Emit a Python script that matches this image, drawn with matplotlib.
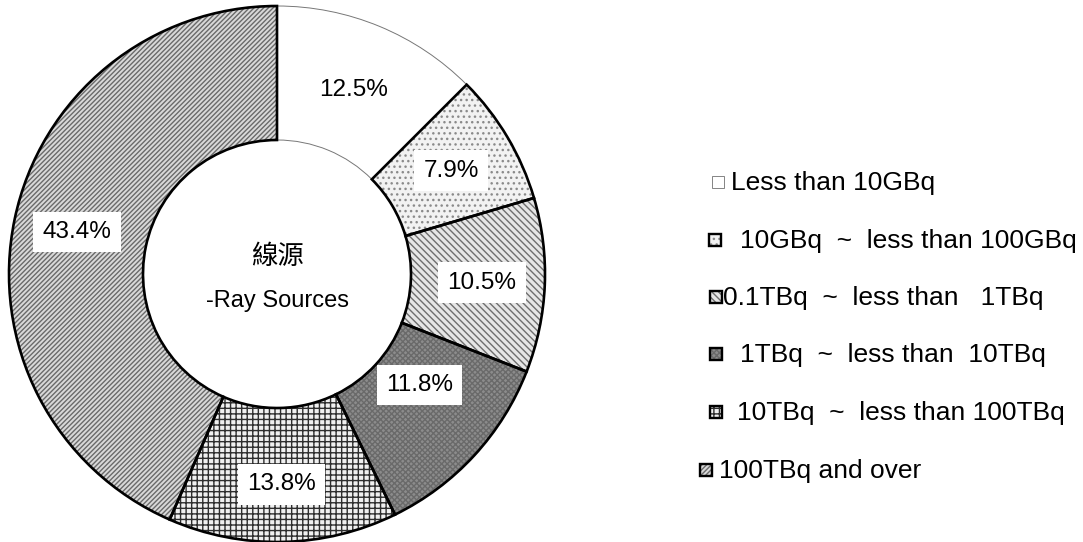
import matplotlib
matplotlib.use("Agg")
import matplotlib.pyplot as plt
from matplotlib.patches import Rectangle
import numpy as np

plt.rcParams['font.family'] = ['Liberation Sans', 'Noto Sans CJK TC', 'DejaVu Sans']
plt.rcParams['hatch.linewidth'] = 1.0

# ---- data ----
categories = [
    "Less than 10GBq",
    "10GBq  ~  less than 100GBq",
    "0.1TBq  ~  less than   1TBq",
    "1TBq  ~  less than  10TBq",
    "10TBq  ~  less than 100TBq",
    "100TBq and over",
]
values = [12.5, 7.9, 10.5, 11.8, 13.8, 43.4]
pct_labels = ["12.5%", "7.9%", "10.5%", "11.8%", "13.8%", "43.4%"]
center_title = ["線源", "-Ray Sources"]

# ---- styles ----
faces = ["white", "#f2f2f2", "#e6e6e6", "#8c8c8c", "#f0f0f0", "#d9d9d9"]
hatches = [None, "...", "\\\\\\\\\\", "xxxxxx", "+++", "///////"]
hatch_cols = ["white", "#8a8a8a", "#6e6e6e", "#6a6a6a", "#2e2e2e", "#6a6a6a"]
edge_cols = ["#777777", "black", "black", "black", "black", "black"]
edge_w = [0.7, 1.9, 1.9, 1.9, 1.9, 1.9]
label_r = [0.745, 0.755, 0.765, 0.675, 0.785, 0.762]
label_dang = [0, 0, 0, 4.7, 0, 0]

W, H = 1083, 542
fig = plt.figure(figsize=(W / 100, H / 100), dpi=100)
cx, cy, R = 277, 274, 268
ax = fig.add_axes([(cx - R) / W, (H - cy - R) / H, 2 * R / W, 2 * R / H])

# hatched fill layer
wedges, _ = ax.pie(values, startangle=90, counterclock=False, radius=1,
                   wedgeprops=dict(width=0.5, linewidth=0))
for w, fc, h, hc in zip(wedges, faces, hatches, hatch_cols):
    w.set_facecolor(fc)
    w.set_edgecolor(hc)
    w.set_linewidth(0)
    if h:
        w.set_hatch(h)

# outline layer
outl, _ = ax.pie(values, startangle=90, counterclock=False, radius=1,
                 wedgeprops=dict(width=0.5, fill=False))
for w, ec, lw in zip(outl, edge_cols, edge_w):
    w.set_edgecolor(ec)
    w.set_linewidth(lw)

ax.set_xlim(-1, 1)
ax.set_ylim(-1, 1)
ax.set_aspect('equal')
ax.axis('off')

# percentage labels
for w, lab, rr, da in zip(wedges, pct_labels, label_r, label_dang):
    ang = (w.theta1 + w.theta2) / 2 + da
    x = rr * np.cos(np.radians(ang))
    y = rr * np.sin(np.radians(ang))
    ax.text(x, y, lab, ha='center', va='center', fontsize=17.5,
            bbox=dict(boxstyle='square,pad=0.38', fc='white', ec='none'))

ax.text(0, 0.065, center_title[0], ha='center', va='center', fontsize=19)
ax.text(0, -0.1, center_title[1], ha='center', va='center', fontsize=17)

# legend (manual)
row_y = [183, 241, 298, 355, 413, 471]
sq_x = [712, 709, 710, 710, 710, 700]
txt_x = [731, 740, 723, 740, 737, 719]
for i, (lab, y) in enumerate(zip(categories, row_y)):
    s = 12
    x0 = sq_x[i]
    yb = (H - y + 1 - s / 2) / H
    rf = Rectangle((x0 / W, yb), s / W, s / H,
                   transform=fig.transFigure, facecolor=faces[i],
                   edgecolor=hatch_cols[i] if hatches[i] else 'white',
                   hatch=hatches[i], linewidth=0)
    fig.add_artist(rf)
    ro = Rectangle((x0 / W, yb), s / W, s / H,
                   transform=fig.transFigure, fill=False,
                   edgecolor=edge_cols[i], linewidth=edge_w[i] * 0.9)
    fig.add_artist(ro)
    fig.text(txt_x[i] / W, (H - y) / H, lab, ha='left', va='center',
             fontsize=19)

fig.savefig("out.png", dpi=100)
